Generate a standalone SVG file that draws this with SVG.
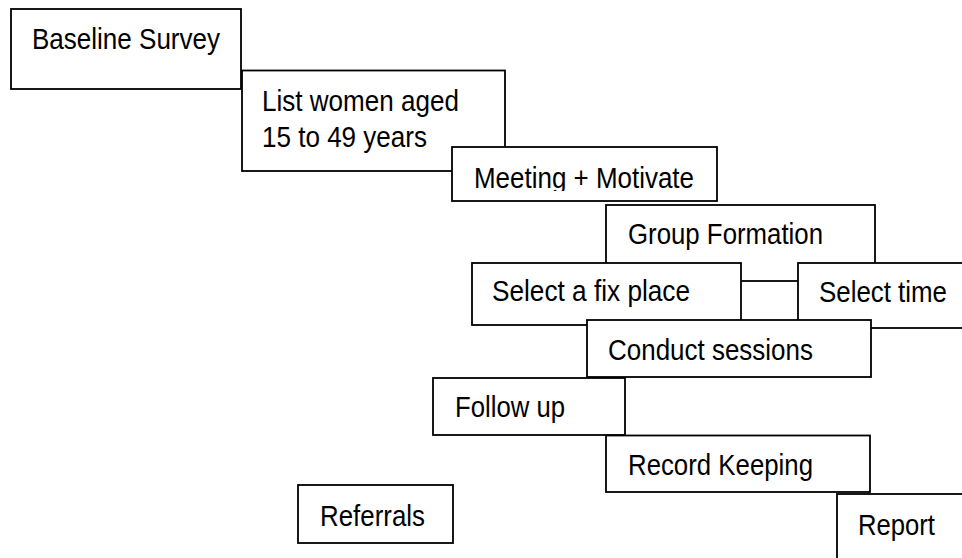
<svg xmlns="http://www.w3.org/2000/svg" width="962" height="558" viewBox="0 0 962 558">
<style>
.box{fill:#fff;stroke:#000;stroke-width:1.8}
.t{font-family:"Liberation Sans",Arial,sans-serif;font-size:29.5px;fill:#000}
</style>
<defs>
<clipPath id="clipMeet"><rect x="452" y="147" width="265" height="44"/></clipPath>
</defs>
<rect width="962" height="558" fill="#fff"/>
<g id="connectors"></g>
<g id="baseline"><rect class="box" x="11" y="9" width="230" height="80"/><text class="t" x="32" y="49" textLength="188" lengthAdjust="spacingAndGlyphs">Baseline Survey</text></g>
<g id="list"><rect class="box" x="242" y="70.5" width="263" height="100.5"/><text class="t" x="262" y="111" textLength="197" lengthAdjust="spacingAndGlyphs">List women aged</text><text class="t" x="262" y="147" textLength="165" lengthAdjust="spacingAndGlyphs">15 to 49 years</text></g>
<g id="meeting"><rect class="box" x="452" y="147" width="265" height="54"/><text class="t" x="474" y="188" textLength="220" lengthAdjust="spacingAndGlyphs" clip-path="url(#clipMeet)">Meeting + Motivate</text></g>
<g id="group"><rect class="box" x="606" y="205" width="269" height="76"/><text class="t" x="628" y="244" textLength="195" lengthAdjust="spacingAndGlyphs">Group Formation</text></g>
<g id="place"><rect class="box" x="472" y="263" width="269" height="62"/><text class="t" x="492" y="301" textLength="198" lengthAdjust="spacingAndGlyphs">Select a fix place</text></g>
<g id="time"><rect class="box" x="798" y="263" width="180" height="65"/><text class="t" x="819" y="302" textLength="128" lengthAdjust="spacingAndGlyphs">Select time</text></g>
<g id="conduct"><rect class="box" x="587" y="320" width="284" height="57"/><text class="t" x="608" y="360" textLength="205" lengthAdjust="spacingAndGlyphs">Conduct sessions</text></g>
<g id="follow"><rect class="box" x="433" y="378" width="192" height="57"/><text class="t" x="455" y="417" textLength="110" lengthAdjust="spacingAndGlyphs">Follow up</text></g>
<g id="record"><rect class="box" x="606" y="435.5" width="264" height="56.5"/><text class="t" x="628" y="475" textLength="185" lengthAdjust="spacingAndGlyphs">Record Keeping</text></g>
<g id="referrals"><rect class="box" x="298" y="485" width="155" height="58"/><text class="t" x="320" y="526" textLength="105" lengthAdjust="spacingAndGlyphs">Referrals</text></g>
<g id="report"><rect class="box" x="837" y="494" width="140" height="80"/><text class="t" x="858" y="535" textLength="77" lengthAdjust="spacingAndGlyphs">Report</text></g>
</svg>
